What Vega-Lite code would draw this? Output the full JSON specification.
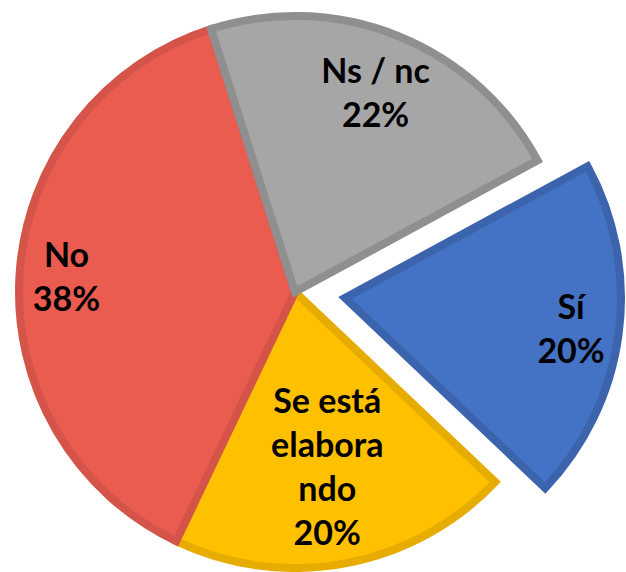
{
  "$schema": "https://vega.github.io/schema/vega-lite/v6.json",
  "width": 590,
  "height": 560,
  "padding": {"left": 0, "top": 12, "right": 36, "bottom": 0},
  "autosize": {"type": "none"},
  "background": "white",
  "view": {"stroke": null},
  "config": {"text": {"font": "Lato", "fontSize": 34, "fontWeight": "bold", "lineBreak": "\n", "lineHeight": 44, "align": "center", "baseline": "middle", "color": "black"}},
  "data": {
    "values": [
      {"cat": "Sí", "value": 20, "idx": 1, "label": "Sí\n20%"},
      {"cat": "Se está elaborando", "value": 20, "idx": 2, "label": "Se está\nelabora\nndo\n20%"},
      {"cat": "No", "value": 38, "idx": 3, "label": "No\n38%"},
      {"cat": "Ns / nc", "value": 22, "idx": 4, "label": "Ns / nc\n22%"}
    ]
  },
  "encoding": {
    "theta": {"field": "value", "type": "quantitative", "stack": true, "scale": {"domain": [0, 100], "range": [1.0734, 7.3566]}},
    "order": {"field": "idx", "type": "quantitative"}
  },
  "layer": [
    {
      "mark": {"type": "arc", "radius": 276, "strokeWidth": 8, "strokeJoin": "miter"},
      "encoding": {
        "fill": {"field": "cat", "type": "nominal", "legend": null, "scale": {"domain": ["Sí", "Se está elaborando", "No", "Ns / nc"], "range": ["#4472c4", "#ffc000", "#ea5b50", "#a6a6a6"]}},
        "stroke": {"field": "cat", "type": "nominal", "legend": null, "scale": {"domain": ["Sí", "Se está elaborando", "No", "Ns / nc"], "range": ["#3c64ad", "#e6ac00", "#d5544a", "#8f8f8f"]}},
        "opacity": {"condition": {"test": "datum.cat === 'Sí'", "value": 0}, "value": 1}
      }
    },
    {
      "mark": {"type": "arc", "radius": 276, "strokeWidth": 8, "strokeJoin": "miter", "xOffset": 50, "yOffset": 6},
      "encoding": {
        "fill": {"field": "cat", "type": "nominal", "legend": null},
        "stroke": {"field": "cat", "type": "nominal", "legend": null},
        "opacity": {"condition": {"test": "datum.cat === 'Sí'", "value": 1}, "value": 0}
      }
    },
    {
      "mark": {"type": "text", "radius": 216, "dy": -19},
      "encoding": {
        "text": {"condition": {"test": "datum.cat === 'Ns / nc'", "field": "label"}, "value": ""}
      }
    },
    {
      "mark": {"type": "text", "radius": 229, "dy": -19},
      "encoding": {
        "text": {"condition": {"test": "datum.cat === 'No'", "field": "label"}, "value": ""}
      }
    },
    {
      "mark": {"type": "text", "radius": 177, "dy": -63},
      "encoding": {
        "text": {"condition": {"test": "datum.cat === 'Se está elaborando'", "field": "label"}, "value": ""}
      }
    },
    {
      "mark": {"type": "text", "radius": 228, "dy": -19, "xOffset": 50, "yOffset": 6},
      "encoding": {
        "text": {"condition": {"test": "datum.cat === 'Sí'", "field": "label"}, "value": ""}
      }
    }
  ]
}
